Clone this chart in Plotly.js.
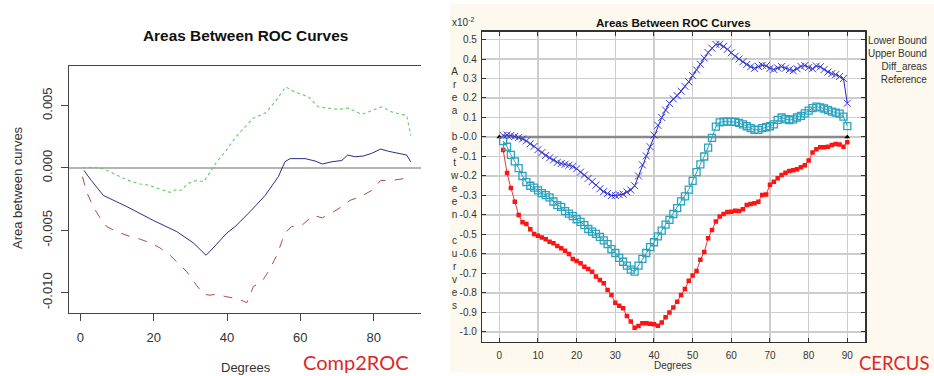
<!DOCTYPE html>
<html><head><meta charset="utf-8">
<script src="https://cdn.plot.ly/plotly-3.0.1.min.js"></script>
<style>html,body{margin:0;padding:0;background:#fff}#chart{width:934px;height:376px}</style>
</head><body><div id="chart"></div>
<script>
// ---------- Left chart (Comp2ROC) ----------
const leftDiffDeg = [1, 3, 6.3, 10, 12.7, 19.9, 26.3, 30.8, 34.3, 37.2, 40, 42.2, 46.3, 50.4, 54, 55.8, 57.2, 61.3, 64, 66, 68.6, 71.3, 72.9, 74.9, 77.2, 79.5, 81.9, 84, 86.7, 89, 90.1];
const leftDiffVal = [-0.0002, -0.0010, -0.0022, -0.0027, -0.0031, -0.0042, -0.0051, -0.0060, -0.0070, -0.0061, -0.0052, -0.0047, -0.0035, -0.0022, -0.0007, 0.0005, 0.00075, 0.00075, 0.00056, 0.00032, 0.0005, 0.0006, 0.00104, 0.0009, 0.00096, 0.00118, 0.00152, 0.00134, 0.00118, 0.00104, 0.0005];
const leftUpperDeg = [0.6, 3.5, 5.8, 8.1, 10.8, 14, 16.3, 18.5, 21.7, 24.5, 26.3, 27.4, 29.5, 31.7, 33.7, 35.8, 37.2, 39.5, 42.2, 44, 47.2, 50.4, 53.1, 56, 58.5, 62.2, 64.9, 67.6, 70.4, 73.1, 76.7, 79.5, 82.2, 84.9, 89, 90.1];
const leftUpperVal = [0.00003, 0.00005, -0.00003, -0.0003, -0.0007, -0.0011, -0.00128, -0.00136, -0.0017, -0.00195, -0.0017, -0.0018, -0.00123, -0.001, -0.0011, -0.00016, 0.0005, 0.0013, 0.0024, 0.003, 0.004, 0.0044, 0.0053, 0.0065, 0.0061, 0.0057, 0.0049, 0.0048, 0.0047, 0.0048, 0.0043, 0.0046, 0.0049, 0.0045, 0.0042, 0.0026];
const leftLowerDeg = [0.6, 1.7, 3.5, 5.4, 7.2, 9.9, 13.6, 16.3, 19, 21.7, 24.5, 26.7, 29, 31.7, 33.5, 35.4, 37.2, 39.5, 43.1, 45.4, 47.2, 49.5, 51.3, 53.6, 55.8, 57.6, 60.4, 63.5, 66, 68.6, 71.3, 73.5, 76.3, 79.5, 81.9, 84.9, 87.6, 89.4];
const leftLowerVal = [-0.0007, -0.0019, -0.0031, -0.004, -0.0047, -0.0051, -0.0055, -0.0057, -0.006, -0.0064, -0.007, -0.0076, -0.0083, -0.0094, -0.0101, -0.0102, -0.0101, -0.0103, -0.0105, -0.0108, -0.0095, -0.0091, -0.0083, -0.007, -0.0052, -0.0047, -0.0046, -0.0038, -0.004, -0.0036, -0.0031, -0.0026, -0.0023, -0.0018, -0.001, -0.001, -0.0009, -0.0008];
const leftXTicks = [0, 20, 40, 60, 80];
const leftYTicks = [-0.010, -0.005, 0.000, 0.005];
const leftYTickText = ['-0.010', '-0.005', '0.000', '0.005'];

// ---------- Right chart (CERCUS), values in units of 10^-2 ----------
const rightDeg = [1,2,3,4,5,6,7,8,9,10,11,12,13,14,15,16,17,18,19,20,21,22,23,24,25,26,27,28,29,30,31,32,33,34,35,36,37,38,39,40,41,42,43,44,45,46,47,48,49,50,51,52,53,54,55,56,57,58,59,60,61,62,63,64,65,66,67,68,69,70,71,72,73,74,75,76,77,78,79,80,81,82,83,84,85,86,87,88,89,90];
const lowerBound = [-0.067,-0.185,-0.262,-0.332,-0.40,-0.437,-0.446,-0.473,-0.497,-0.506,-0.515,-0.525,-0.537,-0.545,-0.559,-0.571,-0.583,-0.60,-0.626,-0.636,-0.648,-0.665,-0.677,-0.691,-0.716,-0.733,-0.75,-0.785,-0.81,-0.85,-0.865,-0.879,-0.918,-0.947,-0.978,-0.97,-0.955,-0.956,-0.958,-0.96,-0.968,-0.952,-0.925,-0.9,-0.874,-0.845,-0.81,-0.78,-0.738,-0.711,-0.687,-0.63,-0.59,-0.52,-0.477,-0.434,-0.408,-0.395,-0.385,-0.383,-0.378,-0.379,-0.371,-0.349,-0.344,-0.34,-0.332,-0.297,-0.295,-0.245,-0.229,-0.212,-0.195,-0.183,-0.175,-0.17,-0.165,-0.155,-0.145,-0.12,-0.08,-0.063,-0.053,-0.053,-0.05,-0.041,-0.036,-0.039,-0.05,-0.027];
const upperBound = [0.008,0.01,0.008,0.003,-0.003,-0.01,-0.02,-0.035,-0.048,-0.065,-0.08,-0.095,-0.107,-0.118,-0.13,-0.136,-0.14,-0.145,-0.151,-0.163,-0.18,-0.195,-0.212,-0.229,-0.247,-0.266,-0.28,-0.29,-0.3,-0.3,-0.296,-0.293,-0.282,-0.272,-0.25,-0.2,-0.143,-0.097,-0.05,0.01,0.06,0.1,0.138,0.172,0.195,0.212,0.235,0.26,0.283,0.315,0.344,0.373,0.405,0.433,0.455,0.475,0.476,0.465,0.45,0.432,0.414,0.4,0.386,0.372,0.36,0.352,0.362,0.368,0.365,0.352,0.346,0.354,0.361,0.353,0.345,0.34,0.35,0.362,0.366,0.356,0.35,0.364,0.36,0.346,0.333,0.325,0.32,0.31,0.3,0.173];
const diffAreas = [-0.021,-0.05,-0.092,-0.125,-0.16,-0.2,-0.232,-0.25,-0.26,-0.274,-0.288,-0.298,-0.31,-0.331,-0.349,-0.358,-0.38,-0.393,-0.406,-0.422,-0.435,-0.452,-0.472,-0.485,-0.497,-0.512,-0.53,-0.55,-0.575,-0.595,-0.62,-0.64,-0.66,-0.68,-0.691,-0.66,-0.625,-0.595,-0.565,-0.54,-0.51,-0.48,-0.45,-0.425,-0.395,-0.365,-0.33,-0.305,-0.27,-0.225,-0.18,-0.14,-0.1,-0.055,-0.005,0.053,0.075,0.079,0.079,0.079,0.077,0.072,0.065,0.055,0.045,0.037,0.036,0.045,0.05,0.055,0.065,0.088,0.1,0.092,0.087,0.09,0.1,0.108,0.121,0.135,0.148,0.156,0.152,0.146,0.138,0.13,0.125,0.12,0.104,0.056];
const referenceDeg = [0, 90];
const referenceVal = [0, 0];
const rightXTicks = [0,10,20,30,40,50,60,70,80,90];
const rightYTicks = [0.5,0.4,0.3,0.2,0.1,0.0,-0.1,-0.2,-0.3,-0.4,-0.5,-0.6,-0.7,-0.8,-0.9,-1.0];
const rightYTickText = ['0.5','0.4','0.3','0.2','0.1','-0.0','-0.1','-0.2','-0.3','-0.4','-0.5','-0.6','-0.7','-0.8','-0.9','-1.0'];
const legendNames = ['Lower Bound', 'Upper Bound', 'Diff_areas', 'Reference'];
const yLabelLetters = 'Area between curves';

// ---------- layout helpers ----------
const W = 934, H = 376;
const px = v => v / W;
const py = v => 1 - v / H;
const FONT = 'Liberation Sans, Arial, sans-serif';

const traces = [
  {x: leftLowerDeg, y: leftLowerVal, xaxis: 'x', yaxis: 'y', mode: 'lines',
   line: {color: '#b24848', width: 1, dash: 'dash'}},
  {x: leftUpperDeg, y: leftUpperVal, xaxis: 'x', yaxis: 'y', mode: 'lines',
   line: {color: '#5fcf5f', width: 1.1, dash: 'dot'}},
  {x: leftDiffDeg, y: leftDiffVal, xaxis: 'x', yaxis: 'y', mode: 'lines',
   line: {color: '#2c2c86', width: 1}},

  {x: referenceDeg, y: referenceVal, xaxis: 'x2', yaxis: 'y2', mode: 'lines+markers', name: legendNames[3],
   line: {color: '#8a8a8a', width: 2.5}, marker: {symbol: 'triangle-up', size: 5, color: '#000'}},
  {x: rightDeg, y: lowerBound, xaxis: 'x2', yaxis: 'y2', mode: 'lines+markers', name: legendNames[0],
   line: {color: '#e53a3a', width: 1}, marker: {symbol: 'square', size: 4.5, color: '#ff1414'}},
  {x: rightDeg, y: diffAreas, xaxis: 'x2', yaxis: 'y2', mode: 'lines+markers', name: legendNames[2],
   line: {color: '#2aa3b8', width: 1}, marker: {symbol: 'square-open', size: 7, color: '#2aa3c0', line: {width: 1.3}}},
  {x: rightDeg, y: upperBound, xaxis: 'x2', yaxis: 'y2', mode: 'lines+markers', name: legendNames[1],
   line: {color: '#2222c4', width: 1}, marker: {symbol: 'x-thin-open', size: 7, color: '#3a3ad4', line: {width: 1, color: '#3a3ad4'}}}
];

const layout = {
  width: W, height: H,
  margin: {l: 0, r: 0, t: 0, b: 0},
  paper_bgcolor: '#ffffff',
  plot_bgcolor: 'rgba(0,0,0,0)',
  showlegend: false,
  font: {family: FONT, color: '#222'},
  xaxis: {
    domain: [px(69.3), px(421)], range: [-3, 92.9], anchor: 'y',
    tickvals: leftXTicks, ticks: 'outside', ticklen: 7, tickcolor: '#444', tickwidth: 1,
    showline: true, linecolor: '#444', linewidth: 1, mirror: true,
    showgrid: false, zeroline: false,
    tickfont: {size: 13, color: '#333', family: FONT}, ticklabelstandoff: 6
  },
  yaxis: {
    domain: [py(312.7), py(65.7)], range: [-0.0116, 0.0082], anchor: 'x',
    tickvals: leftYTicks, ticktext: leftYTickText, tickangle: -90,
    ticks: 'outside', ticklen: 7, tickcolor: '#444', tickwidth: 1,
    showline: true, linecolor: '#444', linewidth: 1,
    showgrid: false, zeroline: true, zerolinecolor: '#b5b5b5', zerolinewidth: 1.5,
    tickfont: {size: 13, color: '#333', family: FONT}, ticklabelstandoff: 4
  },
  xaxis2: {
    domain: [px(482.3), px(865.3)], range: [-4.4, 94.65], anchor: 'y2',
    tickvals: rightXTicks, ticks: 'inside', ticklen: 4, tickcolor: '#333', tickwidth: 1,
    showline: true, linecolor: '#333', linewidth: 1.5, mirror: 'ticks',
    showgrid: true, gridcolor: '#cdcdcd', gridwidth: 1.5, zeroline: false,
    tickfont: {size: 10, color: '#333', family: FONT}, ticklabelstandoff: 4
  },
  yaxis2: {
    domain: [py(341.7), py(31.7)], range: [-1.05, 0.54], anchor: 'x2',
    tickvals: rightYTicks, ticktext: rightYTickText,
    ticks: 'inside', ticklen: 4, tickcolor: '#333', tickwidth: 1,
    showline: true, linecolor: '#333', linewidth: 1.5, mirror: 'ticks',
    showgrid: true, gridcolor: '#cdcdcd', gridwidth: 1.5, zeroline: false,
    tickfont: {size: 10, color: '#333', family: FONT}, ticklabelstandoff: 2
  },
  shapes: [
    {type: 'rect', xref: 'paper', yref: 'paper', x0: px(450), x1: 1, y0: py(372.7), y1: py(4),
     fillcolor: '#fdf9ee', line: {width: 0}, layer: 'below'},
    {type: 'rect', xref: 'x2 domain', yref: 'y2 domain', x0: 0, x1: 1, y0: 0, y1: 1,
     fillcolor: '#ffffff', line: {width: 0}, layer: 'below'}
  ],
  annotations: [
    {text: 'Areas Between ROC Curves', xref: 'paper', yref: 'paper', x: px(245.7), y: py(35),
     xanchor: 'center', yanchor: 'middle', showarrow: false,
     font: {size: 15.4, weight: 'bold', color: '#111', family: FONT}},
    {text: 'Degrees', xref: 'paper', yref: 'paper', x: px(246), y: py(367.7),
     xanchor: 'center', yanchor: 'middle', showarrow: false, font: {size: 13, color: '#333', family: FONT}},
    {text: 'Area between curves', xref: 'paper', yref: 'paper', x: px(17), y: py(188), textangle: -90,
     xanchor: 'center', yanchor: 'middle', showarrow: false, font: {size: 13, color: '#333', family: FONT}},
    {text: 'Comp2ROC', xref: 'paper', yref: 'paper', x: px(356), y: py(361.5),
     xanchor: 'center', yanchor: 'middle', showarrow: false, font: {size: 20, color: '#e0262a', family: 'Lato, Open Sans, sans-serif'}},

    {text: 'Areas Between ROC Curves', xref: 'paper', yref: 'paper', x: px(673), y: py(22.3),
     xanchor: 'center', yanchor: 'middle', showarrow: false,
     font: {size: 11.6, weight: 'bold', color: '#111', family: FONT}},
    {text: 'x10<sup>-2</sup>', xref: 'paper', yref: 'paper', x: px(449.5), y: py(22),
     xanchor: 'left', yanchor: 'middle', showarrow: false, font: {size: 10, color: '#333', family: FONT}},
    {text: legendNames.join('<br>'), xref: 'paper', yref: 'paper', x: px(929), y: py(32.5),
     xanchor: 'right', yanchor: 'top', align: 'right', showarrow: false,
     font: {size: 10, color: '#333', family: FONT}},
    {text: yLabelLetters.split('').map(c => c === ' ' ? '\u00a0' : c).join('<br>'), xref: 'paper', yref: 'paper',
     x: px(454), y: py(188), xanchor: 'center', yanchor: 'middle', align: 'center', showarrow: false,
     font: {size: 10, color: '#333', family: FONT}},
    {text: 'Degrees', xref: 'paper', yref: 'paper', x: px(673), y: py(365.7),
     xanchor: 'center', yanchor: 'middle', showarrow: false, font: {size: 10, color: '#333', family: FONT}},
    {text: 'CERCUS', xref: 'paper', yref: 'paper', x: px(932), y: py(362.7),
     xanchor: 'right', yanchor: 'middle', showarrow: false, font: {size: 18.5, color: '#e0262a', family: 'Lato, Open Sans, sans-serif'}}
  ]
};

Plotly.newPlot('chart', traces, layout, {displayModeBar: false, staticPlot: true});
</script></body></html>
